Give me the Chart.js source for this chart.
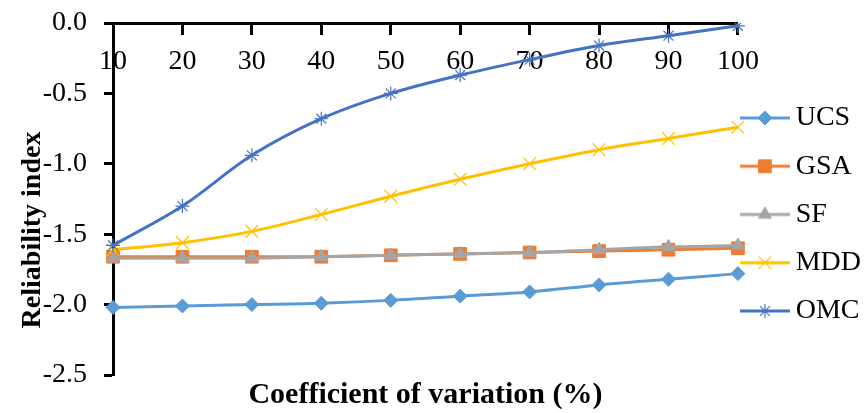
<!DOCTYPE html>
<html>
<head>
<meta charset="utf-8">
<script src="https://cdn.jsdelivr.net/npm/chart.js@4/dist/chart.umd.min.js"></script>
<style>
html,body{margin:0;padding:0;background:#fff;}
canvas{display:block;}
</style>
</head>
<body>
<canvas id="c" width="865" height="413"></canvas>
<script>
// ---- data ----
const categories = ['10','20','30','40','50','60','70','80','90','100'];
const seriesNames = ['UCS','GSA','SF','MDD','OMC'];
const ucs = [-2.02, -2.01, -2.00, -1.99, -1.97, -1.94, -1.91, -1.86, -1.82, -1.78];
const gsa = [-1.66, -1.66, -1.66, -1.66, -1.65, -1.64, -1.63, -1.62, -1.61, -1.60];
const sf  = [-1.67, -1.67, -1.67, -1.66, -1.65, -1.64, -1.63, -1.61, -1.59, -1.58];
const mdd = [-1.61, -1.56, -1.48, -1.36, -1.23, -1.11, -1.00, -0.90, -0.82, -0.74];
const omc = [-1.58, -1.30, -0.94, -0.68, -0.50, -0.37, -0.26, -0.16, -0.09, -0.02];
const yTickValues = [-2.5, -2.0, -1.5, -1.0, -0.5, 0.0];
const xTitle = 'Coefficient of variation (%)';
const yTitle = 'Reliability index';

// ---- styles ----
const FONT = '"Liberation Serif", "Times New Roman", serif';
Chart.defaults.font.family = FONT;
Chart.defaults.color = '#000';

const styles = [
  {color: '#5B9BD5', point: 'rectRot', r: 7, bw: 1},
  {color: '#ED7D31', point: 'rect', r: 9, bw: 1},
  {color: '#A5A5A5', point: 'triangle', r: 7.5, bw: 1},
  {color: '#FFC000', point: 'crossRot', r: 9, bw: 1.2},
  {color: '#4472C4', point: 'star', r: 7, bw: 1.2}
];
const seriesData = [ucs, gsa, sf, mdd, omc];

function legendIcon(st) {
  const c = document.createElement('canvas');
  c.width = 60; c.height = 24;
  const g = c.getContext('2d');
  g.strokeStyle = st.color; g.lineWidth = 3;
  g.beginPath(); g.moveTo(0, 12); g.lineTo(50, 12); g.stroke();
  g.fillStyle = st.color; g.strokeStyle = st.color; g.lineWidth = st.bw;
  Chart.helpers.drawPoint(g, {pointStyle: st.point, radius: st.r, rotation: 0, borderWidth: st.bw}, 25, 12);
  return c;
}
const legendIcons = styles.map(legendIcon);

const datasets = seriesNames.map((name, i) => ({
  label: name,
  data: seriesData[i],
  borderColor: styles[i].color,
  backgroundColor: styles[i].color,
  borderWidth: 3,
  pointStyle: styles[i].point,
  pointRadius: styles[i].r,
  pointBorderWidth: styles[i].bw,
  pointBackgroundColor: styles[i].color,
  pointBorderColor: styles[i].color,
  tension: 0.33,
  order: seriesNames.length - i
}));

const yTitlePlugin = {
  id: 'yTitlePlugin',
  afterDraw(chart) {
    const {ctx, chartArea} = chart;
    ctx.save();
    ctx.font = 'bold 28px ' + FONT;
    ctx.fillStyle = '#000';
    ctx.textAlign = 'center';
    ctx.textBaseline = 'alphabetic';
    ctx.translate(40, (chartArea.top + chartArea.bottom) / 2 + 31);
    ctx.rotate(-Math.PI / 2);
    ctx.fillText(yTitle, 0, 0);
    ctx.restore();
  }
};

new Chart(document.getElementById('c'), {
  type: 'line',
  data: {labels: categories, datasets},
  plugins: [yTitlePlugin],
  options: {
    responsive: false,
    devicePixelRatio: 1,
    animation: false,
    events: [],
    layout: {padding: {left: 42, top: 23, right: -6, bottom: 0}},
    scales: {
      x: {
        type: 'category',
        position: {y: 0},
        offset: false,
        afterFit: s => { s.height = 0; },
        ticks: {font: {size: 28}, color: '#000', padding: 12, maxRotation: 0, autoSkip: false},
        grid: {display: true, drawOnChartArea: false, drawTicks: true, tickLength: 10, tickWidth: 3, tickColor: '#000', offset: false},
        border: {display: true, color: '#000', width: 3}
      },
      y: {
        type: 'linear',
        min: -2.5, max: 0,
        afterBuildTicks: s => { s.ticks = yTickValues.map(v => ({value: v})); },
        afterFit: s => { s.width = 71; s.paddingTop = 10; s.paddingBottom = 10; },
        ticks: {font: {size: 28}, color: '#000', padding: 17, callback: v => Number(v).toFixed(1)},
        grid: {display: true, drawOnChartArea: false, drawTicks: true, tickLength: 9, tickWidth: 3, tickColor: '#000'},
        border: {display: true, color: '#000', width: 3}
      }
    },
    plugins: {
      tooltip: {enabled: false},
      title: {
        display: true, position: 'bottom', fullSize: false,
        text: xTitle, color: '#000',
        font: {size: 30, weight: 'bold'},
        padding: {top: 2, bottom: 0}
      },
      legend: {
        position: 'right', align: 'start',
        title: {display: true, text: '', font: {size: 10}, padding: {top: 48.75, bottom: 0}},
        labels: {
          usePointStyle: true, pointStyleWidth: 23.5, padding: 20.25,
          color: '#000', font: {size: 28},
          generateLabels: chart => chart.data.datasets.map((ds, i) => ({
            text: ds.label, pointStyle: legendIcons[i], datasetIndex: i,
            hidden: false, fillStyle: ds.borderColor, strokeStyle: ds.borderColor, lineWidth: 0
          }))
        }
      }
    }
  }
});
</script>
</body>
</html>
